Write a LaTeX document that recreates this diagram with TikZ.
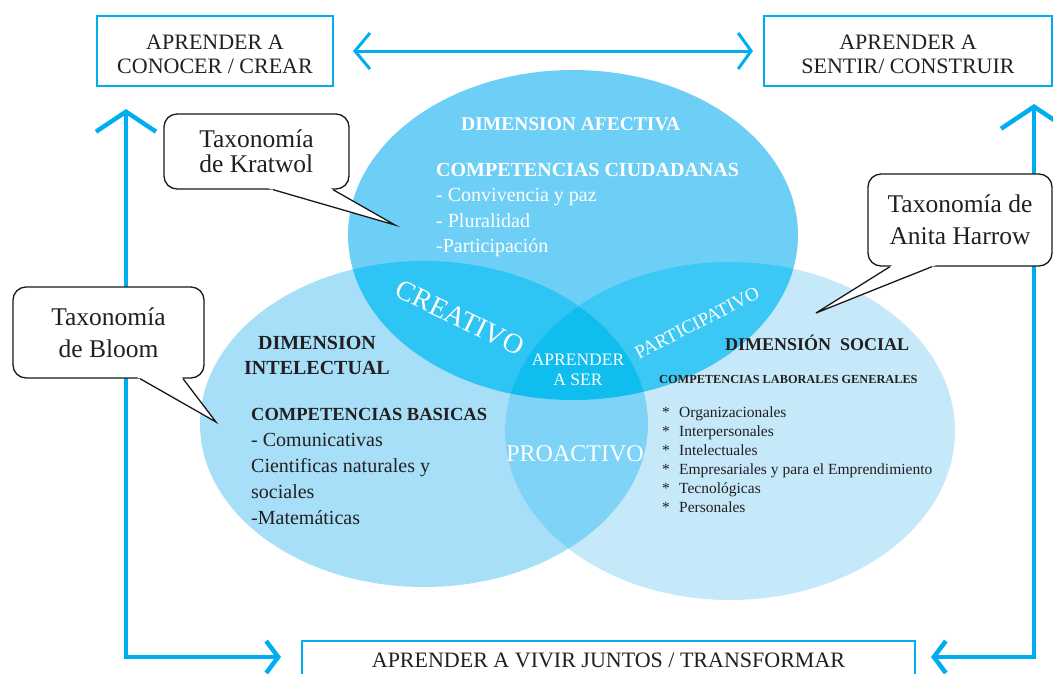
\documentclass[tikz,border=0pt]{standalone}
\usepackage{xcolor}
\usepackage{fontspec}
\setmainfont{Liberation Serif}
\usepackage{tikz}
\usetikzlibrary{positioning,arrows.meta,calc}
\definecolor{cyanline}{HTML}{00AEEF}
\definecolor{afectc}{HTML}{6DCFF6}
\definecolor{intelc}{HTML}{A8DFF8}
\definecolor{socialc}{HTML}{C6E9FA}
\definecolor{creac}{HTML}{2EC4F3}
\definecolor{partc}{HTML}{3CC8F4}
\definecolor{proac}{HTML}{7ED3F7}
\definecolor{serc}{HTML}{10BDEF}
\definecolor{ink}{HTML}{231F20}
\newcommand\fsz[2]{\fontsize{#1}{#2}\selectfont}

\begin{document}
\begin{tikzpicture}[x=1pt,y=-1pt,
  box/.style={draw=cyanline,line width=2pt,align=center,text=ink,font=\fsz{22}{24}},
  bubble/.style={draw=black!90,line width=1.3pt,rounded corners=13pt,fill=white,align=center,text=ink,font=\fsz{25.5}{32}},
  tail/.style={draw=black!90,line width=1.3pt},
  flow/.style={draw=cyanline,line width=4.5pt},
  head/.style={font=\fsz{20}{25}\bfseries,anchor=base west,inner sep=0pt,text=ink},
  item/.style={font=\fsz{20}{25},anchor=base west,inner sep=0pt,text=ink},
  tag/.style={text=white,font=\fsz{28}{28}}
  ]
  \useasboundingbox (0,0) rectangle (1053,673);
  \def\afectiva{(573,235) ellipse [x radius=225pt,y radius=165pt]}
  \def\intelectual{(424,424) ellipse [x radius=224pt,y radius=163pt]}
  \def\social{(730,431) ellipse [x radius=225pt,y radius=169pt]}
  \def\lift{\rule{0pt}{22pt}}

  % the three dimensions and their overlaps
  \fill[intelc] \intelectual;
  \fill[socialc] \social;
  \fill[afectc] \afectiva;
  \begin{scope}
    \clip \afectiva;
    \fill[creac] \intelectual;
    \fill[partc] \social;
  \end{scope}
  \begin{scope}
    \clip \intelectual;
    \fill[proac] \social;
    \clip \afectiva;
    \fill[serc] \social;
  \end{scope}

  \node[box,minimum width=236pt,minimum height=70pt] (conocer) at (215,51) {\lift APRENDER A\\CONOCER / CREAR};
  \node[box,minimum width=288pt,minimum height=70pt] (sentir) at (908,51) {\lift APRENDER A\\SENTIR/ CONSTRUIR};
  \node[box,anchor=north,minimum width=613pt,text depth=30pt,inner ysep=12pt] (vivir) at (608.5,640) {APRENDER A VIVIR JUNTOS / TRANSFORMAR};

  \draw[flow,line width=3pt,{Straight Barb[length=15pt,width=36pt]}-{Straight Barb[length=13pt,width=36pt]}] ([xshift=19pt]conocer.east) -- ([xshift=-10pt]sentir.west);
  \draw[flow,{Straight Barb[length=20pt,width=60pt]}-{Straight Barb[length=12pt,width=32pt]}] ([xshift=30pt,yshift=-22pt]conocer.south west) |- ([xshift=-20pt,yshift=-17pt]vivir.north west);
  \draw[flow,{Straight Barb[length=22pt,width=66pt]}-{Straight Barb[length=12pt,width=32pt]}] ([xshift=-19pt,yshift=-17pt]sentir.south east) |- ([xshift=15pt,yshift=-17pt]vivir.north east);

  % afectiva
  \node[head,text=white,font=\fsz{19.5}{25}\bfseries] (afectiva) at (461,130) {DIMENSION AFECTIVA};
  \node[head,text=white] (ciudadanas) at (436,176) {COMPETENCIAS CIUDADANAS};
  \foreach \txt [count=\i] in {- Convivencia y paz,- Pluralidad,-Participación}
    \node[item,text=white] (civ\i) at (436,176+25.5*\i) {\txt};

  % intelectual
  \node[head,anchor=base] (dimint) at (317,349) {DIMENSION};
  \node[head,anchor=base] (intel) at (317,374) {INTELECTUAL};
  \node[head,font=\fsz{18.5}{25}\bfseries] (basicas) at (251,420) {COMPETENCIAS BASICAS};
  \foreach \txt [count=\i] in {- Comunicativas,Cientificas naturales y,sociales,-Matemáticas}
    \node[item] (bas\i) at (251,421+25.8*\i) {\txt};

  % social
  \node[head,font=\fsz{18}{25}\bfseries] (dimsoc) at (725,350) {DIMENSIÓN~~SOCIAL};
  \node[head,font=\fsz{12.3}{15}\bfseries] (laborales) at (659,383) {COMPETENCIAS LABORALES GENERALES};
  \foreach \txt [count=\i] in {Organizacionales,Interpersonales,Intelectuales,Empresariales y para el Emprendimiento,Tecnológicas,Personales}{
    \node[item,font=\fsz{15.5}{19}] (ast\i) at (662,398+19*\i) {*};
    \node[item,font=\fsz{15.5}{19}] (lab\i) at (679,398+19*\i) {\txt};
  }

  \node[tag,rotate=-26] (creativo) at (460,318) {CREATIVO};
  \node[tag,font=\fsz{19}{19},rotate=27] (participativo) at (697,323) {PARTICIPATIVO};
  \node[tag,font=\fsz{17.5}{20.5},align=center] (ser) at (578,370) {APRENDER\\A SER};
  \node[tag,font=\fsz{24}{24}] (proactivo) at (575,454) {PROACTIVO};

  % callouts
  \node[bubble,align=left,font=\fsz{25.5}{25},minimum width=185pt,minimum height=75pt] (kratwol) at (256.5,151.5) {Taxonomía\\de Kratwol};
  \node[bubble,minimum width=191pt,minimum height=91pt] (bloom) at (108.5,332.5) {Taxonomía\\de Bloom};
  \node[bubble,minimum width=184pt,minimum height=92pt] (harrow) at (960,220) {Taxonomía de\\Anita Harrow};
  \coordinate (kratip) at (395,225);
  \coordinate (bloomtip) at (216,422);
  \coordinate (harrowtip) at (816,313);

  \fill[white] ($([xshift=16.5pt]kratwol.south)!-5pt!(kratip)$) -- (kratip) -- ($([xshift=76.5pt]kratwol.south)!-5pt!(kratip)$) -- cycle;
  \draw[tail] ([xshift=16.5pt]kratwol.south) -- (kratip) -- ([xshift=76.5pt]kratwol.south);
  \fill[white] ($([xshift=31.5pt]bloom.south)!-5pt!(bloomtip)$) -- (bloomtip) -- ($([xshift=74.5pt]bloom.south)!-5pt!(bloomtip)$) -- cycle;
  \draw[tail] ([xshift=31.5pt]bloom.south) -- (bloomtip) -- ([xshift=74.5pt]bloom.south);
  \fill[white] ($([xshift=-70pt]harrow.south)!-5pt!(harrowtip)$) -- (harrowtip) -- ($([xshift=-28pt]harrow.south)!-5pt!(harrowtip)$) -- cycle;
  \draw[tail] ([xshift=-70pt]harrow.south) -- (harrowtip) -- ([xshift=-28pt]harrow.south);
\end{tikzpicture}
\end{document}
